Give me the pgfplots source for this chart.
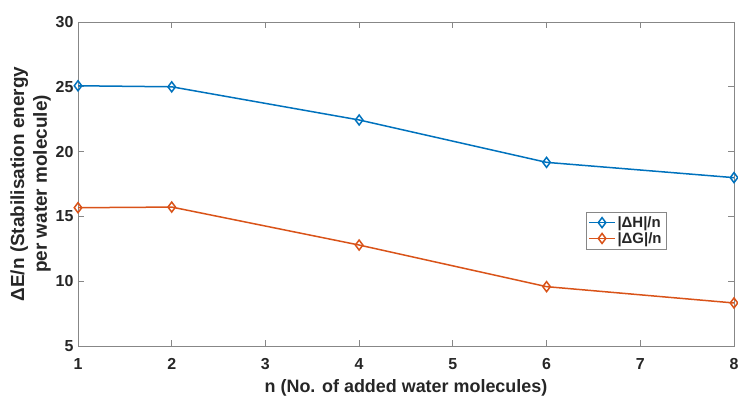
\documentclass[border=0pt]{standalone}
\usepackage{fontspec}
\setmainfont{Liberation Sans}
\usepackage{pgfplots}
\pgfplotsset{compat=1.18}
\definecolor{mblue}{RGB}{0,114,189}
\definecolor{morange}{RGB}{217,83,25}
\definecolor{axgray}{RGB}{135,135,135}
\definecolor{txt}{RGB}{38,38,38}
\begin{document}
\begin{tikzpicture}
\begin{axis}[
  scale only axis, width=656bp, height=324bp,
  xmin=1, xmax=8, ymin=5, ymax=30,
  xtick={1,2,...,8}, ytick={5,10,...,30},
  tick align=inside, major tick length=6bp,
  axis line style={axgray, line width=0.8bp},
  tick style={axgray, line width=0.8bp},
  /pgf/number format/assume math mode=true,
  ticklabel style={font=\bfseries\fontsize{16}{18}\selectfont, text=txt},
  xticklabel style={yshift=-9bp},
  yticklabel style={xshift=-1bp},
  xlabel={n (No. of added water molecules)},
  xlabel style={font=\bfseries\fontsize{18}{20}\selectfont, text=txt, yshift=-3bp},
  ylabel={ΔE/n (Stabilisation energy\\per water molecule)},
  ylabel style={font=\bfseries\fontsize{19}{23}\selectfont, text=txt, align=center, yshift=-2bp},
  legend style={at={(0.774,0.4145)}, anchor=north west, draw=axgray, line width=0.6bp,
    font=\bfseries\fontsize{15}{17}\selectfont, text=txt, inner sep=2.5bp, row sep=-0.5bp},
  legend image code/.code={\draw[mark repeat=2,mark phase=2,#1] plot coordinates {(0cm,0cm) (0.45cm,0cm) (0.9cm,0cm)};},
  legend cell align=left,
]
\addplot[mblue, line width=1.5bp, mark=diamond, mark size=5bp, mark options={solid, line width=1.5bp, fill=none}]
  coordinates {(1,25.08) (2,25.0) (4,22.44) (6,19.17) (8,17.99)};
\addlegendentry{|ΔH|/n}
\addplot[morange, line width=1.5bp, mark=diamond, mark size=5bp, mark options={solid, line width=1.5bp, fill=none}]
  coordinates {(1,15.67) (2,15.72) (4,12.79) (6,9.58) (8,8.32)};
\addlegendentry{|ΔG|/n}
\coordinate (bl) at (rel axis cs:0,0);
\coordinate (tr) at (rel axis cs:1,1);
\end{axis}
\pgfresetboundingbox
\path[use as bounding box] ([shift={(-78bp,-49bp)}]bl) rectangle ([shift={(4bp,22bp)}]tr);
\end{tikzpicture}
\end{document}
